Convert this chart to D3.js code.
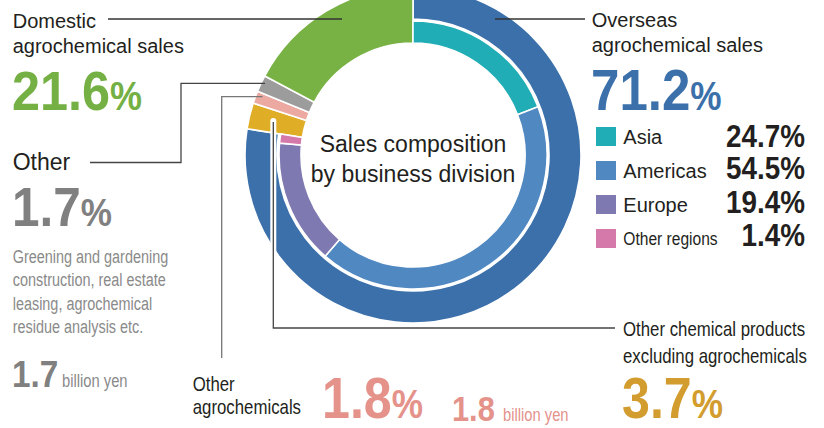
<!DOCTYPE html>
<html>
<head>
<meta charset="utf-8">
<script src="https://cdn.jsdelivr.net/npm/d3@7"></script>
<style>
  html, body { margin: 0; padding: 0; background: #fff; }
  svg { display: block; }
</style>
</head>
<body>
<div id="chart"></div>
<script>
// ---- data ----
const divisions = ["Overseas agrochemical sales", "Other chemical products excluding agrochemicals", "Other agrochemicals", "Other", "Domestic agrochemical sales"];
const divisionPct = [71.2, 3.7, 1.8, 1.7, 21.6];          // labelled shares
const divisionArc = [77.5, 2.5, 1.2, 1.6, 17.2];           // arc sizes as drawn in the ring
const divisionColors = ["#3b70aa", "#e0ad27", "#eba9a1", "#9c9c9c", "#78b244"];

const regions = ["Asia", "Americas", "Europe", "Other regions"];
const regionPct = [24.7, 54.5, 19.4, 1.4];
const regionColors = ["#20adb6", "#5088c1", "#7f79b1", "#d578aa"];

const billionYen = { other: 1.7, otherAgro: 1.8 };

// ---- layout ----
const W = 824, H = 428;
const cx = 413, cy = 155;
const R_OUT = 168, R_MID_OUT = 136, R_MID_IN = 134, R_IN = 112;
const TXT = "#231f20";
const NARROW = 0.82;

const svg = d3.select("#chart").append("svg").attr("width", W).attr("height", H);

// ---- rings ----
const g = svg.append("g").attr("transform", `translate(${cx},${cy})`);
const pie = d3.pie().sort(null).value(d => d);
const outerArcs = pie(divisionArc);
const arcFull = d3.arc().innerRadius(R_IN).outerRadius(R_OUT);
const arcOuterOnly = d3.arc().innerRadius(R_MID_OUT).outerRadius(R_OUT);

g.selectAll("path.div").data(outerArcs).join("path")
  .attr("class", "div")
  .attr("d", (d, i) => i === 0 ? arcOuterOnly(d) : arcFull(d))
  .attr("fill", (d, i) => divisionColors[i])
  .attr("stroke", "#fff").attr("stroke-width", 1.6);

const overseasEnd = outerArcs[0].endAngle;
const innerPie = d3.pie().sort(null).value(d => d).startAngle(0).endAngle(overseasEnd);
const arcInner = d3.arc().innerRadius(R_IN).outerRadius(R_MID_IN);
g.selectAll("path.reg").data(innerPie(regionPct)).join("path")
  .attr("class", "reg")
  .attr("d", arcInner)
  .attr("fill", (d, i) => regionColors[i])
  .attr("stroke", "#fff").attr("stroke-width", 1.6);

// ---- leader lines ----
const line = (pts, color, w) => svg.append("path")
  .attr("d", d3.line()(pts)).attr("fill", "none")
  .attr("stroke", color).attr("stroke-width", w || 1.3);

line([[108, 19], [342, 19]], "#333");
line([[495, 19], [585, 19]], "#333");
line([[90, 162.5], [181, 162.5], [181, 83.3], [265, 83.3]], "#444");
line([[221.7, 358], [221.7, 96.7], [262.5, 96.7]], "#777");
// halo through the ring for the "other chemical products" leader
svg.append("path").attr("d", d3.line()([[273.3, 121], [273.3, 300]]))
  .attr("stroke", "#fff").attr("stroke-width", 6).attr("stroke-linecap", "round");
line([[273.3, 122], [273.3, 328], [615, 328]], "#444");

// ---- text helpers ----
function txt(x, y, s, o) {
  o = o || {};
  const sx = o.sx || (o.narrow ? NARROW : 1);
  return svg.append("text")
    .attr("transform", `translate(${x},${y}) scale(${sx},1)`)
    .attr("font-family", "'Liberation Sans', Arial, sans-serif")
    .attr("font-size", o.size || 20)
    .attr("font-weight", o.bold ? 700 : 400)
    .attr("fill", o.color || TXT)
    .attr("text-anchor", o.anchor || "start")
    .text(s);
}
function bigPct(x, y, v, color, size, pctSize, sx) {
  const t = svg.append("text")
    .attr("transform", `translate(${x},${y}) scale(${sx},1)`)
    .attr("font-family", "'Liberation Sans', Arial, sans-serif")
    .attr("font-weight", 700).attr("fill", color);
  t.append("tspan").attr("font-size", size).text(v.toFixed(1));
  t.append("tspan").attr("font-size", pctSize).text("%");
  return t;
}

// ---- left: domestic ----
txt(12.7, 28, "Domestic");
txt(12.7, 53, "agrochemical sales");
bigPct(12, 110, divisionPct[4], "#74b044", 56, 40, 0.9);

// ---- left: other ----
txt(12.7, 170, "Other", { size: 23 });
bigPct(12, 226, divisionPct[3], "#808080", 55, 39, 0.9);
const descLines = ["Greening and gardening", "construction, real estate", "leasing, agrochemical", "residue analysis etc."];
descLines.forEach((s, i) => txt(12.7, 263 + i * 23.4, s, { narrow: true, size: 17.6, color: "#8a8a8a" }));
txt(12, 387, billionYen.other.toFixed(1), { bold: true, size: 37, color: "#808080", sx: 0.9 });
txt(62, 387, "billion yen", { narrow: true, size: 18, color: "#8a8a8a" });

// ---- bottom: other agrochemicals ----
txt(192.7, 390.7, "Other", { narrow: true, size: 20.5 });
txt(192.7, 414, "agrochemicals", { narrow: true, size: 20.5 });
bigPct(322, 418, divisionPct[2], "#e4928a", 57, 40, 0.88);
txt(452, 420.5, billionYen.otherAgro.toFixed(1), { bold: true, size: 35, color: "#e4928a", sx: 0.88 });
txt(503, 421, "billion yen", { narrow: true, size: 18, color: "#e4928a" });

// ---- bottom right: other chemical products ----
txt(623, 336, "Other chemical products", { narrow: true, size: 20.5 });
txt(623, 362.5, "excluding agrochemicals", { narrow: true, size: 20.5 });
bigPct(622, 418, divisionPct[1], "#d39c2e", 57, 40, 0.88);

// ---- right: overseas ----
txt(591.7, 26.7, "Overseas");
txt(591.7, 51.7, "agrochemical sales");
bigPct(591, 110, divisionPct[0], "#3b70aa", 58, 40, 0.88);

const legendY = [127, 161, 195, 229];
const labelBase = [144, 178, 212, 245];
const pctBase = [146.7, 178.8, 213, 245.5];
regions.forEach((r, i) => {
  svg.append("rect").attr("x", 596).attr("y", legendY[i]).attr("width", 20).attr("height", 19)
    .attr("fill", regionColors[i]);
  if (i < 3) txt(623.3, labelBase[i], r, { size: 20 });
  else txt(623.3, labelBase[i], r, { narrow: true, size: 19 });
  txt(805, pctBase[i], regionPct[i].toFixed(1) + "%", { bold: true, size: 32, sx: 0.87, anchor: "end" });
});

// ---- centre title ----
txt(413, 151.7, "Sales composition", { size: 23, anchor: "middle" });
txt(413, 181.7, "by business division", { size: 23, anchor: "middle" });
</script>
</body>
</html>
